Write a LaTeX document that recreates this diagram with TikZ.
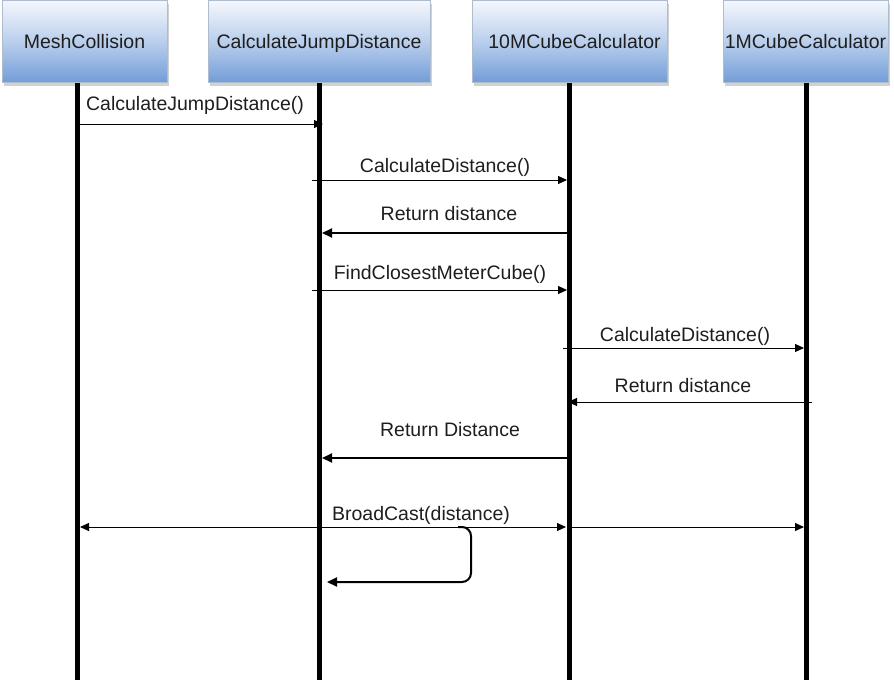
\documentclass[tikz,border=0pt]{standalone}
\usepackage{fontspec}
\setmainfont{Liberation Sans}
\usetikzlibrary{arrows.meta,shadows}
\definecolor{boxtop}{RGB}{244,248,253}
\definecolor{boxmid}{RGB}{186,207,236}
\definecolor{boxbot}{RGB}{114,157,217}
\definecolor{boxline}{RGB}{175,188,206}
\definecolor{txt}{RGB}{30,30,30}
\begin{document}
\begin{tikzpicture}[x=1pt,y=-1pt,
  actor/.style={draw=boxline, line width=0.6pt, minimum height=82pt, anchor=north,
    inner sep=0pt, top color=boxtop, bottom color=boxbot, middle color=boxmid,
    drop shadow={shadow xshift=2pt, shadow yshift=-4pt, fill=black!30, opacity=0.6},
    font=\fontsize{19.5}{22}\selectfont, text=txt, text height=19pt, text depth=4pt},
  life/.style={line width=5pt},
  msg/.style={line width=1pt, -{Triangle[length=9pt,width=8pt]}},
  ret/.style={line width=2pt, -{Triangle[length=10pt,width=9pt]}},
  lbl/.style={anchor=base, inner sep=0pt, font=\fontsize{19.5}{22}\selectfont, text=txt}
]
\useasboundingbox (0,0) rectangle (894,688);
% actors
\node[actor, minimum width=165pt] (mc) at (84.5,0) {MeshCollision};
\node[actor, minimum width=222pt] (cj) at (319,0) {CalculateJumpDistance};
\node[actor, minimum width=195pt] (tm) at (569.5,0) {\hspace*{10pt}10MCubeCalculator};
\node[actor, minimum width=165pt] (om) at (805.5,0) {1MCubeCalculator};
% lifeline ends
\coordinate (mce) at (77,680);
\coordinate (cje) at (319,680);
\coordinate (tme) at (569,680);
\coordinate (ome) at (806,680);
\draw[life] (mc.south -| mce) -- (mce);
\draw[life] (cj.south -| cje) -- (cje);
\draw[life] (tm.south -| tme) -- (tme);
\draw[life] (om.south -| ome) -- (ome);
% message end points
\coordinate (a1) at (80,124);  \coordinate (b1) at (323,124);
\coordinate (a2) at (312,180); \coordinate (b2) at (567,180);
\coordinate (a3) at (569,233); \coordinate (b3) at (322,233);
\coordinate (a4) at (312,290); \coordinate (b4) at (567,290);
\coordinate (a5) at (563,348); \coordinate (b5) at (804,348);
\coordinate (a6) at (812,402); \coordinate (b6) at (568,402);
\coordinate (a7) at (569,458); \coordinate (b7) at (322,458);
\coordinate (c8) at (319,527); \coordinate (l8) at (80,527);
\coordinate (m8) at (566,527); \coordinate (n8) at (569,527);
\coordinate (r8) at (804,527);
\coordinate (s8) at (458,527); \coordinate (t8) at (471,527);
\coordinate (u8) at (471,582); \coordinate (v8) at (327,582);
% messages
\draw[msg] (a1) -- (b1);
\draw[msg] (a2) -- (b2);
\draw[ret] (a3) -- (b3);
\draw[msg] (a4) -- (b4);
\draw[msg] (a5) -- (b5);
\draw[msg] (a6) -- (b6);
\draw[ret] (a7) -- (b7);
\draw[msg] (c8) -- (l8);
\draw[msg] (c8) -- (m8);
\draw[msg] (n8) -- (r8);
\draw[ret, rounded corners=9pt] (s8) -- (t8) -- (u8) -- (v8);
% labels
\node[lbl] (t1) at (195,110) {CalculateJumpDistance()};
\node[lbl] (t2) at (445,172) {CalculateDistance()};
\node[lbl] (t3) at (449,220) {Return distance};
\node[lbl] (t4) at (440,279) {FindClosestMeterCube()};
\node[lbl] (t5) at (685,341) {CalculateDistance()};
\node[lbl] (t6) at (683,392) {Return distance};
\node[lbl] (t7) at (450,436) {Return Distance};
\node[lbl] (t8) at (421,520) {BroadCast(distance)};
\end{tikzpicture}
\end{document}
